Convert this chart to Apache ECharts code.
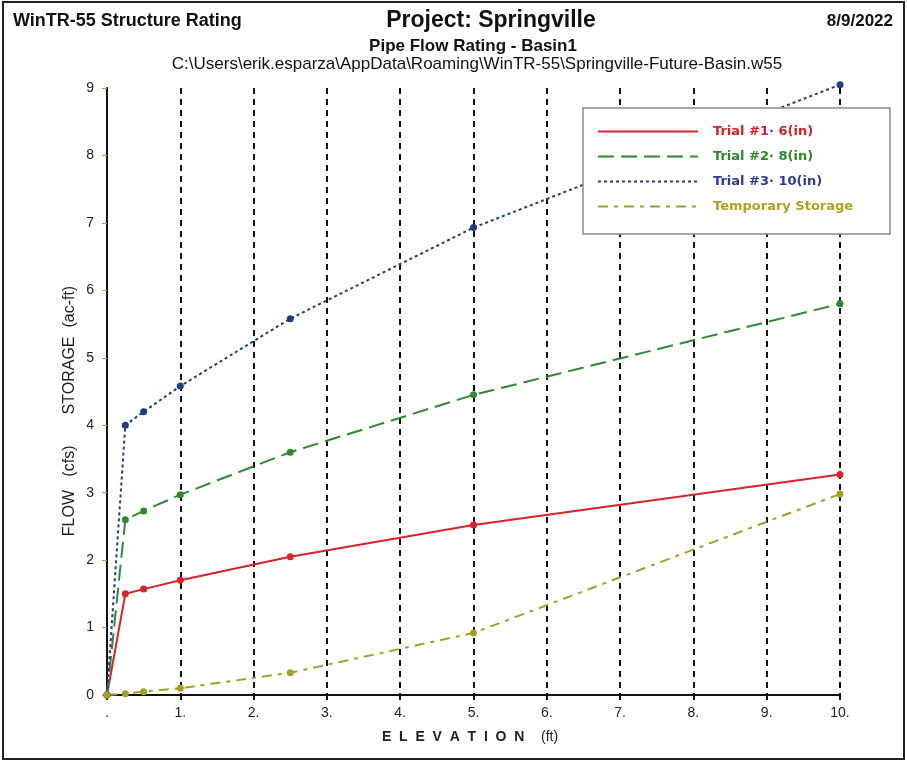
<!DOCTYPE html>
<html>
<head>
<meta charset="utf-8">
<script src="https://cdn.jsdelivr.net/npm/echarts@6/dist/echarts.min.js"></script>
<style>
  html, body { margin: 0; padding: 0; background: #fff; }
  #chart { width: 907px; height: 763px; }
</style>
</head>
<body>
<div id="chart"></div>
<script>
// 高程 (ft)
const elevation = [0, 0.25, 0.5, 1, 2.5, 5, 10]
// 三种管径的流量 (cfs) 以及临时蓄水量 (ac-ft)
const trial1Flow = [0, 1.5, 1.57, 1.7, 2.05, 2.52, 3.27]
const trial2Flow = [0, 2.6, 2.73, 2.97, 3.6, 4.45, 5.8]
const trial3Flow = [0, 4.0, 4.2, 4.58, 5.58, 6.93, 9.05]
const storage = [0, 0.02, 0.05, 0.1, 0.33, 0.92, 2.98]

const seriesNames = ['Trial #1· 6(in)', 'Trial #2· 8(in)', 'Trial #3· 10(in)', 'Temporary Storage']
const seriesColors = ['#d8222c', '#2f8a2f', '#1d3d86', '#a3a023']
const legendTextColors = ['#d42026', '#2a8a2a', '#2a3a9a', '#b0a020']

const FONT = '"Liberation Sans", Arial, sans-serif'

function pairs (ys) {
  return elevation.map((x, i) => [x, ys[i]])
}

function makeSeries (i, ys, lineType) {
  return {
    name: seriesNames[i],
    type: 'line',
    data: pairs(ys),
    symbol: 'circle',
    symbolSize: 7,
    clip: false,
    itemStyle: { color: seriesColors[i] },
    lineStyle: { color: seriesColors[i], width: 2, type: lineType },
    z: 2,
  }
}

const chart = echarts.init(document.getElementById('chart'))

const option = {
  animation: false,
  backgroundColor: '#fff',
  grid: { left: 107, right: 67, top: 88, bottom: 68 },
  title: [
    { text: 'WinTR-55 Structure Rating', left: 8, top: 7, textStyle: { fontFamily: FONT, fontSize: 18, fontWeight: 'bold', color: '#111' } },
    { text: 'Project: Springville', left: 486, top: 4, textAlign: 'center', textStyle: { fontFamily: FONT, fontSize: 23, fontWeight: 'bold', color: '#111' } },
    { text: '8/9/2022', right: 9, top: 8, textStyle: { fontFamily: FONT, fontSize: 17, fontWeight: 'bold', color: '#111' } },
    { text: 'Pipe Flow Rating - Basin1', left: 468, top: 33, textAlign: 'center', textStyle: { fontFamily: FONT, fontSize: 17, fontWeight: 'bold', color: '#111' } },
    { text: 'C:\\Users\\erik.esparza\\AppData\\Roaming\\WinTR-55\\Springville-Future-Basin.w55', left: 472, top: 51, textAlign: 'center', textStyle: { fontFamily: FONT, fontSize: 17, fontWeight: 'normal', color: '#111' } },
  ],
  legend: {
    orient: 'vertical',
    left: 597,
    top: 125,
    padding: 0,
    itemWidth: 100,
    itemHeight: 14,
    itemGap: 12,
    itemStyle: { opacity: 0 },
    z: 5,
    data: seriesNames.map((name, i) => ({
      name,
      textStyle: { color: legendTextColors[i] },
    })),
    textStyle: { fontFamily: '"DejaVu Sans", sans-serif', fontSize: 13, fontWeight: 'bold', padding: [0, 0, 0, 10] },
  },
  xAxis: {
    type: 'value',
    min: 0,
    max: 10,
    interval: 1,
    axisLine: { lineStyle: { color: '#111', width: 2 } },
    axisTick: { length: 5, lineStyle: { color: '#111', width: 2 } },
    axisLabel: {
      margin: 11,
      fontFamily: FONT,
      fontSize: 14,
      color: '#222',
      formatter: v => (v === 0 ? '.' : v + '.'),
    },
    splitLine: { show: true, lineStyle: { color: '#111', width: 2, type: [6, 5] } },
  },
  yAxis: {
    type: 'value',
    min: 0,
    max: 9,
    interval: 1,
    axisLine: { show: true, lineStyle: { color: '#111', width: 2 } },
    axisTick: { show: true, length: 5, lineStyle: { color: '#a8a040', width: 1 } },
    axisLabel: { margin: 13, fontFamily: FONT, fontSize: 14, color: '#222' },
    splitLine: { show: false },
  },
  graphic: [
    // 外框
    { type: 'rect', shape: { x: 3, y: 2, width: 901, height: 757 }, style: { fill: 'none', stroke: '#222', lineWidth: 2 }, z: 0 },
    // 图例框，盖住下面的曲线
    { type: 'rect', shape: { x: 583, y: 108, width: 307, height: 126 }, style: { fill: '#fff', stroke: '#8a8a8a', lineWidth: 1.5 }, z: 3 },
    // y轴标题 (比轴中点略低)
    {
      type: 'text',
      x: 70,
      y: 411,
      rotation: Math.PI / 2,
      style: {
        text: 'FLOW   (cfs)       STORAGE  (ac-ft)',
        fontFamily: FONT,
        fontSize: 16,
        fill: '#222',
        align: 'center',
        verticalAlign: 'middle',
      },
    },
    {
      type: 'text',
      left: 382,
      top: 730,
      style: {
        text: '{a|E  L  E  V  A  T  I  O  N}     {b|(ft)}',
        rich: {
          a: { fontFamily: FONT, fontSize: 14, fontWeight: 'bold', fill: '#222' },
          b: { fontFamily: FONT, fontSize: 14, fill: '#222' },
        },
      },
    },
  ],
  series: [
    makeSeries(0, trial1Flow, 'solid'),
    makeSeries(1, trial2Flow, [16, 7]),
    makeSeries(2, trial3Flow, [3, 3]),
    makeSeries(3, storage, [10, 6, 4, 6]),
  ],
}

chart.setOption(option)
</script>
</body>
</html>
